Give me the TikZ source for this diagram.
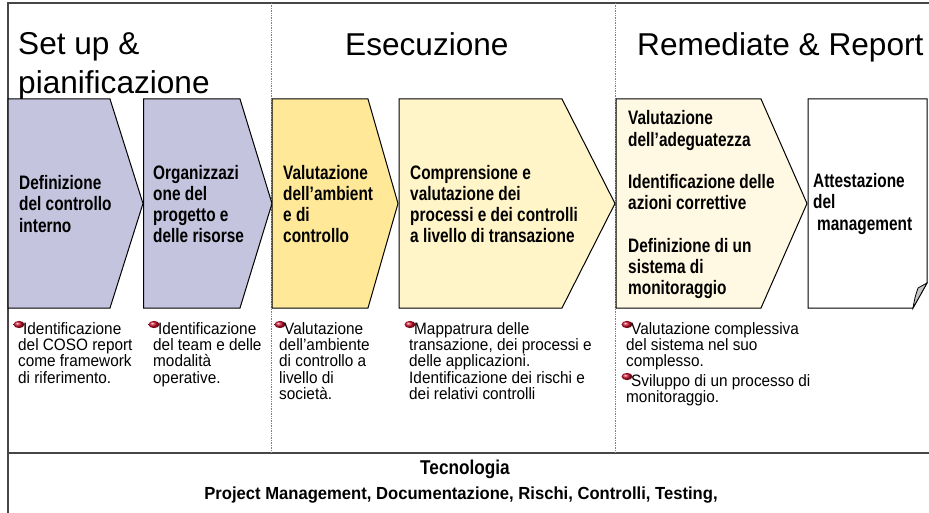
\documentclass[tikz,border=0pt]{standalone}
\usepackage{fontspec}
\setmainfont{Liberation Sans}
\newfontfamily\narrowsans[FakeStretch=0.79]{Liberation Sans}
\newfontfamily\plainsans[FakeStretch=0.93]{Liberation Sans}
\newfontfamily\techsans[FakeStretch=0.86]{Liberation Sans}
\newfontfamily\subsans[FakeStretch=0.95]{Liberation Sans}
\definecolor{lavender}{RGB}{196,196,222}
\definecolor{goldmid}{RGB}{255,233,153}
\definecolor{goldpale}{RGB}{255,245,200}
\definecolor{cream}{RGB}{255,248,226}
\definecolor{bulletred}{RGB}{200,10,40}
\definecolor{framegray}{RGB}{70,70,70}
\tikzset{
  title_font/.style = {font=\fontsize{31.6}{39}\selectfont},
  phase_font/.style = {font=\narrowsans\bfseries\fontsize{19.5}{21.25}\selectfont},
  note_font/.style = {font=\plainsans\fontsize{16.5}{16.3}\selectfont},
  tech_font/.style = {font=\techsans\bfseries\fontsize{20}{22}\selectfont},
  sub_font/.style = {font=\subsans\bfseries\fontsize{17.5}{18}\selectfont}
}
\tikzset{
  title/.style = {title_font, align=left, anchor=north west, inner sep=0},
  phase/.style = {phase_font, align=left, anchor=west, inner sep=0},
  note/.style = {note_font, align=left, anchor=north west, inner sep=0},
  chevron/.style = {draw=black, line width=1, line join=miter},
  frame/.style = {draw=framegray, line width=1.4},
  divider/.style = {draw=gray, densely dotted, line width=0.7},
  bulleted/.style = {append after command={
    \pgfextra{
      \shade[ball color=bulletred] ([xshift=1pt, yshift=-2.5pt]\tikzlastnode.north west)
        ellipse [x radius=5.5pt, y radius=3.6pt];
    }}}
}
\begin{document}
\begin{tikzpicture}[x=1pt, y=-1pt]
    \useasboundingbox (0,0) rectangle (929,513);

    % Frame and dividers
    \draw[frame] (929,3)--(8,3)--(8,513);
    \draw[frame] (8,453)--(929,453);
    \draw[divider] (271,3)--(271,453);
    \draw[divider] (615,3)--(615,453);

    % Phases
    \node[title] at (18,32) (h_1) {
        Set up \&\\pianificazione
        };
    \node[title, anchor=north west] at (345,32) (h_2) {
        Esecuzione
        };
    \node[title, anchor=north west] at (637,32) (h_3) {
        Remediate \& Report
        };

    % Chevrons
    \filldraw[chevron, fill=lavender] (8,99)--(110,99)--(143,203.5)--(110,308)--(8,308)--cycle;
    \filldraw[chevron, fill=lavender] (143.5,99)--(240,99)--(272,203.5)--(240,308)--(143.5,308)--cycle;
    \filldraw[chevron, fill=goldmid] (272,99)--(368,99)--(398,203.5)--(368,308)--(272,308)--cycle;
    \filldraw[chevron, fill=goldpale] (399,99)--(562,99)--(615,203.5)--(562,308)--(399,308)--cycle;
    \filldraw[chevron, fill=cream] (616,99)--(761,99)--(807,203.5)--(761,308)--(616,308)--cycle;
    \filldraw[chevron, fill=white] (808,99)--(927,99)--(927,283)--(913,308)--(808,308)--cycle;
    \filldraw[chevron, line width=0.8, fill=gray!45] (913,308) .. controls (915,297) .. (918,288)--(927,283)--cycle;

    % Chevron texts
    \node[phase] at (19,204) (p_1) {
        Definizione\\del controllo\\interno
        };
    \node[phase] at (153,204) (p_2) {
        Organizzazi\\one del\\progetto e\\delle risorse
        };
    \node[phase] at (283,204) (p_3) {
        Valutazione\\dell’ambient\\e di\\controllo
        };
    \node[phase] at (410,204) (p_4) {
        Comprensione e\\valutazione dei\\processi e dei controlli\\a livello di transazione
        };
    \node[phase] at (628,205) (p_5) {
        Valutazione\\dell’adeguatezza\\[21.25pt]Identificazione delle\\azioni correttive\\[21.25pt]Definizione di un\\sistema di\\monitoraggio
        };
    \node[phase] at (813,204) (p_6) {
        Attestazione\\del\\\hspace*{4pt}management
        };

    % Notes
    \node[note, bulleted] at (18,322) (n_1) {
        \hspace*{5pt}Identificazione\\del COSO report\\come framework\\di riferimento.
        };
    \node[note, bulleted] at (153,322) (n_2) {
        \hspace*{5pt}Identificazione\\del team e delle\\modalità\\operative.
        };
    \node[note, bulleted] at (279,322) (n_3) {
        \hspace*{5pt}Valutazione\\dell’ambiente\\di controllo a\\livello di\\società.
        };
    \node[note, bulleted] at (409,322) (n_4) {
        \hspace*{5pt}Mappatrura delle\\transazione, dei processi e\\delle applicazioni.\\Identificazione dei rischi e\\dei relativi controlli
        };
    \node[note, bulleted] at (626,322) (n_5) {
        \hspace*{5pt}Valutazione complessiva\\del sistema nel suo\\complesso.
        };
    \node[note, bulleted] at (626,374) (n_6) {
        \hspace*{5pt}Sviluppo di un processo di\\monitoraggio.
        };

    % Technology band
    \node[tech_font, anchor=base, inner sep=0] at (465,474) (t_1) {
        Tecnologia
        };
    \node[sub_font, anchor=base, inner sep=0] at (461,499) (t_2) {
        Project Management, Documentazione, Rischi, Controlli, Testing,
        };
\end{tikzpicture}
\end{document}
